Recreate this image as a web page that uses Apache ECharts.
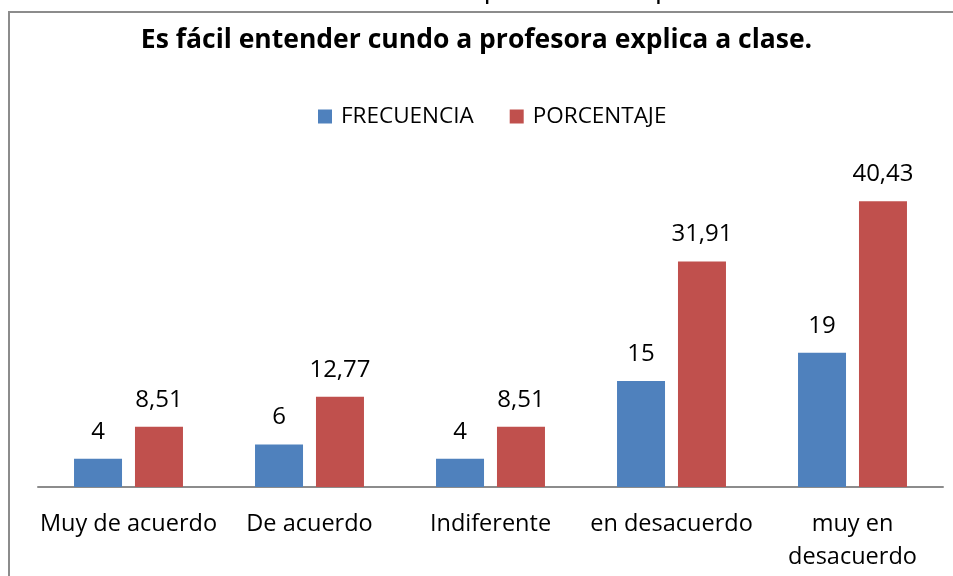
<!DOCTYPE html>
<html>
<head>
<meta charset="utf-8">
<script src="https://cdn.jsdelivr.net/npm/echarts@6/dist/echarts.min.js"></script>
<style>
  html, body { margin: 0; padding: 0; background: #fff; }
  #chart { width: 953px; height: 576px; }
</style>
</head>
<body>
<div id="chart"></div>
<script>
const categories = ["Muy de acuerdo", "De acuerdo", "Indiferente", "en desacuerdo", "muy en\ndesacuerdo"];
const frecuencia = [4, 6, 4, 15, 19];
const porcentaje = [8.51, 12.77, 8.51, 31.91, 40.43];
const titleText = "Es fácil entender cundo a profesora explica a clase.";

const chart = echarts.init(document.getElementById("chart"));
const font = "'Open Sans', sans-serif";

// decimal comma like the original
const labelFmt = p => String(p.value).replace(".", ",");

const option = {
  backgroundColor: "#ffffff",
  title: {
    text: titleText,
    left: "center",
    top: 22,
    textStyle: { fontFamily: font, fontSize: 26.5, fontWeight: "bold", color: "#000" },
  },
  legend: {
    top: 100,
    left: 313,
    itemWidth: 14,
    itemHeight: 14,
    itemGap: 36,
    icon: "rect",
    textStyle: { fontFamily: font, fontSize: 22.5, color: "#000", padding: [0, 0, 0, 4] },
    data: ["FRECUENCIA", "PORCENTAJE"],
  },
  grid: { left: 38, right: 10, top: 169, bottom: 89 },
  xAxis: {
    type: "category",
    data: categories,
    axisLine: { lineStyle: { color: "#8c8c8c", width: 2 } },
    axisTick: { show: false },
    axisLabel: {
      fontFamily: font,
      fontSize: 23.5,
      color: "#000",
      margin: 21,
      lineHeight: 33,
      interval: 0,
    },
  },
  yAxis: {
    type: "value",
    min: 0,
    max: 45,
    show: false,
    splitLine: { show: false },
  },
  series: [
    {
      name: "FRECUENCIA",
      type: "bar",
      data: frecuencia,
      barWidth: 48,
      barGap: "27%",
      itemStyle: { color: "#4F81BD" },
      label: { show: true, position: "top", distance: 15, fontFamily: font, fontSize: 24, color: "#000", formatter: labelFmt },
    },
    {
      name: "PORCENTAJE",
      type: "bar",
      data: porcentaje,
      barWidth: 48,
      itemStyle: { color: "#C0504D" },
      label: { show: true, position: "top", distance: 15, fontFamily: font, fontSize: 24, color: "#000", formatter: labelFmt },
    },
  ],
  graphic: [
    {
      type: "rect",
      shape: { x: 9, y: 12, width: 960, height: 600 },
      style: { fill: "none", stroke: "#8c8c8c", lineWidth: 2 },
      silent: true,
    },
    {
      type: "text",
      x: 476,
      y: 3,
      style: {
        text: "Es fácil entender cundo a profesora explica a clase",
        font: "29px " + font,
        fill: "#000",
        align: "center",
        verticalAlign: "bottom",
      },
      silent: true,
    },
  ],
};

chart.setOption(option);
</script>
</body>
</html>
